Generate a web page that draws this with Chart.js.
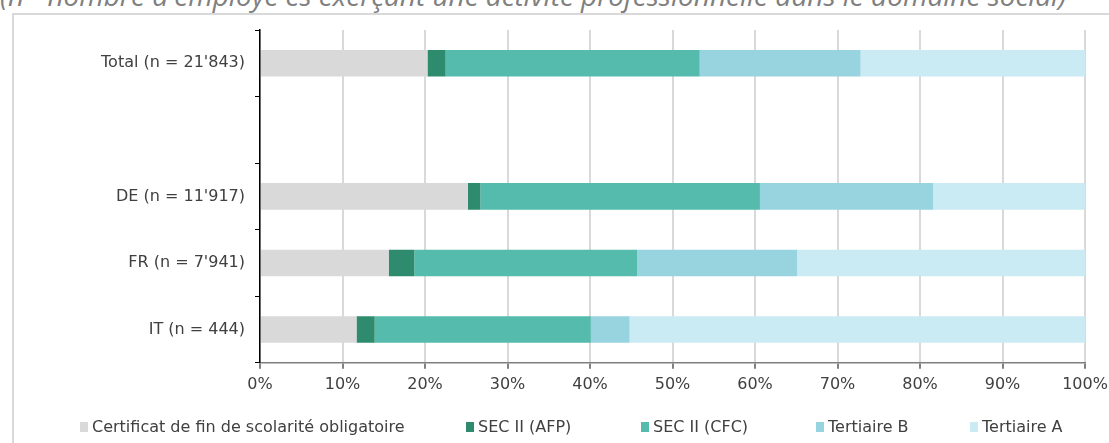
<!DOCTYPE html>
<html>
<head>
<meta charset="utf-8">
<script src="https://cdn.jsdelivr.net/npm/chart.js@4"></script>
<style>
  body { margin: 0; background: #fff; overflow: hidden; }
  #wrap { position: relative; width: 1109px; height: 443px; overflow: hidden; }
  #frame { position: absolute; left: 12px; top: 13px; width: 1200px; height: 500px;
           border-left: 2px solid #d9d9d9; border-top: 2px solid #d9d9d9; }
  #note { position: absolute; left: 0px; top: -24px; white-space: nowrap;
          font: italic 28px "Open Sans", sans-serif; color: #808080; }
  #chart { position: absolute; left: 0; top: 0; }
  #legend { position: absolute; left: 0; top: 417px; width: 1109px; height: 20px;
            font: 16px "DejaVu Sans", sans-serif; color: #404040; }
  #legend .item { position: absolute; top: 0; display: flex; align-items: center; white-space: nowrap; }
  #legend .box { width: 8px; height: 10px; margin-right: 4px; }
</style>
</head>
<body>
<div id="wrap">
  <div id="note">(n= nombre d'employé·es exerçant une activité professionnelle dans le domaine social)</div>
  <div id="frame"></div>
  <canvas id="chart" width="1109" height="443"></canvas>
  <div id="legend"></div>
</div>
<script>
// groups (empty slot between Total and the language regions)
const categories = ["Total (n = 21'843)", "", "DE (n = 11'917)", "FR (n = 7'941)", "IT (n = 444)"];

const seriesNames = ["Certificat de fin de scolarité obligatoire", "SEC II (AFP)", "SEC II (CFC)", "Tertiaire B", "Tertiaire A"];
const seriesColors = ["#d9d9d9", "#2e8b6e", "#55bbad", "#98d4df", "#caebf3"];

// shares in %
const scolarite = [20.3, null, 25.2, 15.6, 11.7];
const secAfp    = [2.2,  null, 1.5,  3.1,  2.2];
const secCfc    = [30.8, null, 33.9, 27.0, 26.2];
const tertB     = [19.5, null, 21.0, 19.4, 4.7];
const tertA     = [27.2, null, 18.4, 34.9, 55.2];

const xTicks = [0, 10, 20, 30, 40, 50, 60, 70, 80, 90, 100];

// left edge of each legend entry
const legendLeft = [80, 466, 641, 816, 970];

const seriesValues = [scolarite, secAfp, secCfc, tertB, tertA];
const font = { family: "DejaVu Sans", size: 16 };

const ctx = document.getElementById('chart').getContext('2d');
const chart = new Chart(ctx, {
    type: 'bar',
    data: {
        labels: categories,
        datasets: seriesNames.map((name, i) => ({
            label: name,
            data: seriesValues[i],
            backgroundColor: seriesColors[i],
            borderWidth: 0,
            barPercentage: 0.4,
            categoryPercentage: 1
        }))
    },
    options: {
        indexAxis: 'y',
        responsive: false,
        animation: false,
        layout: { padding: { top: 30, right: 24, bottom: 43, left: 0 } },
        plugins: {
            legend: { display: false },
            tooltip: { enabled: false }
        },
        scales: {
            x: {
                stacked: true,
                min: 0,
                max: 100,
                afterBuildTicks: s => { s.ticks = xTicks.map(v => ({ value: v })); },
                afterFit: s => { s.paddingLeft = 0; s.paddingRight = 0; },
                ticks: { font: font, color: '#404040', padding: 6, callback: v => v + '%' },
                grid: { color: '#d9d9d9', lineWidth: 2, tickLength: 6, tickColor: '#808080' },
                border: { color: '#7f7f7f', width: 1.5 }
            },
            y: {
                stacked: true,
                afterFit: s => { s.width = 260; },
                ticks: { font: font, color: '#404040', padding: 10 },
                grid: { offset: true, drawOnChartArea: false, tickLength: 5, tickColor: '#000' },
                border: { color: '#000', width: 1.5 }
            }
        }
    }
});

// legend row under the chart
const legend = document.getElementById('legend');
seriesNames.forEach((name, i) => {
    const item = document.createElement('div');
    item.className = 'item';
    item.style.left = legendLeft[i] + 'px';
    const box = document.createElement('span');
    box.className = 'box';
    box.style.background = seriesColors[i];
    const txt = document.createElement('span');
    txt.textContent = name;
    item.appendChild(box);
    item.appendChild(txt);
    legend.appendChild(item);
});
</script>
</body>
</html>
